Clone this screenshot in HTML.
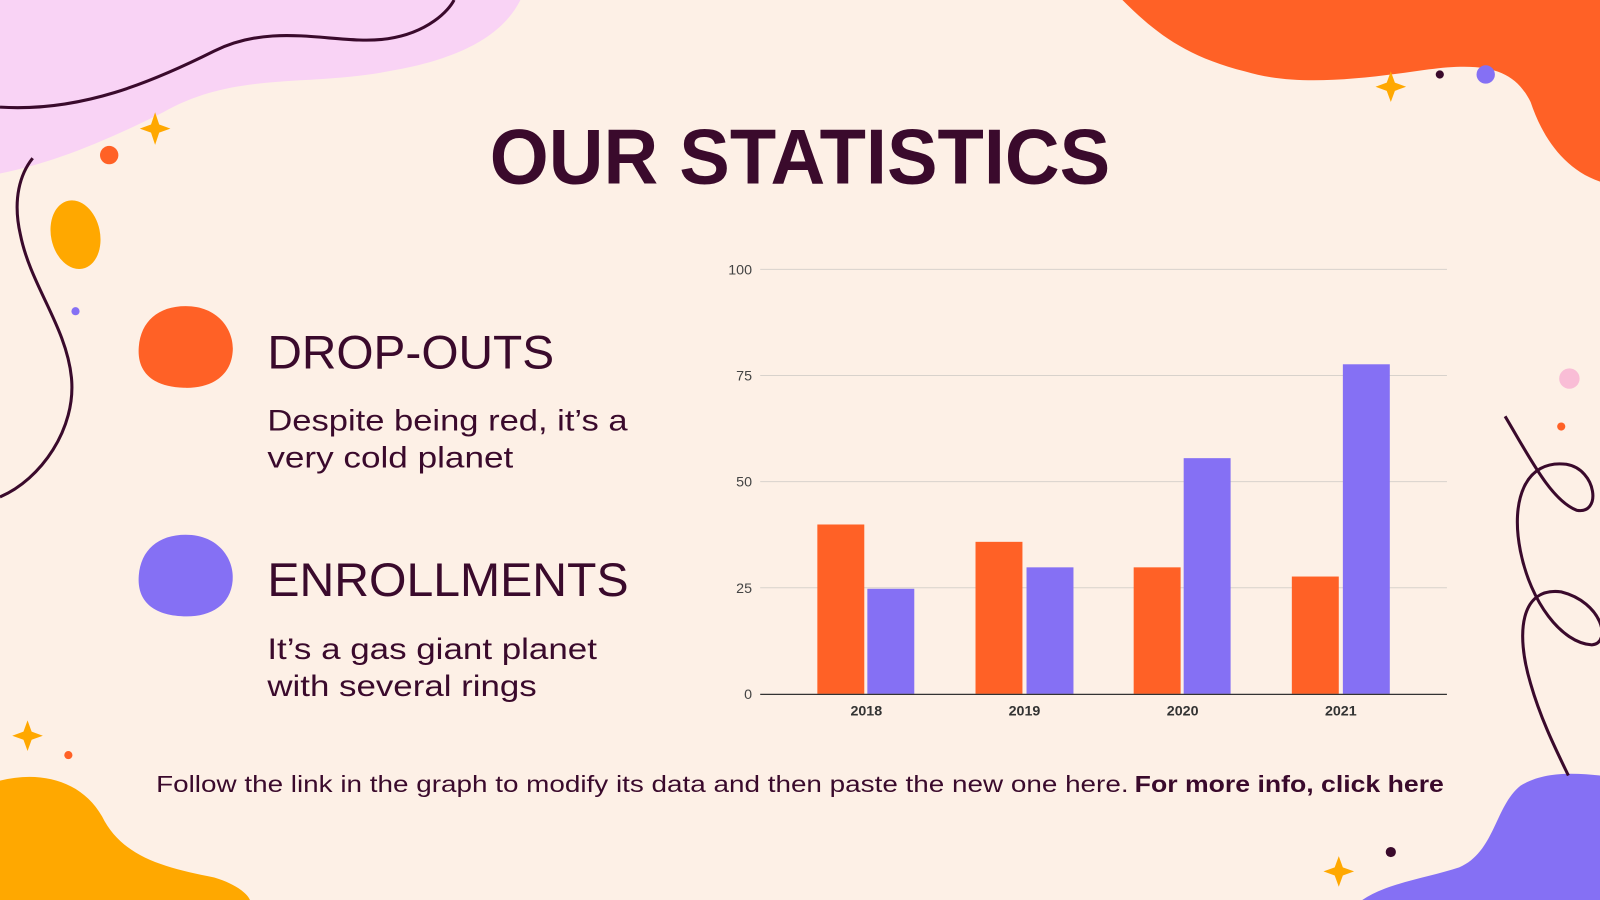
<!DOCTYPE html>
<html><head><meta charset="utf-8"><style>
html,body{margin:0;padding:0;background:#fdf0e6;overflow:hidden}
svg{display:block}
text{font-family:"Liberation Sans",sans-serif}
</style></head><body>
<svg width="1600" height="900" viewBox="0 0 1568 882" xmlns="http://www.w3.org/2000/svg">
<rect width="1568" height="882" fill="#fdf0e6"/>
<!-- pink blob top-left -->
<path d="M0,0 L510,0 C490,40 440,60 380,70 C300,85 230,70 160,110 C100,140 50,160 0,170 Z" fill="#f9d3f5"/>
<path d="M0,105 C80,110 150,80 210,50 C270,20 330,45 380,38 C420,32 440,10 445,0" fill="none" stroke="#3a0a2c" stroke-width="3"/>
<!-- orange blob top-right -->
<path d="M1100,0 L1568,0 L1568,178 C1530,165 1510,130 1500,100 C1485,70 1460,60 1400,68 C1330,78 1270,85 1220,70 C1160,55 1130,30 1100,0 Z" fill="#ff6126"/>
<!-- yellow bottom-left -->
<path d="M0,765 C40,755 80,765 100,800 C120,840 160,850 210,860 C230,866 242,875 245,882 L0,882 Z" fill="#ffa800"/>
<!-- purple bottom-right -->
<path d="M1335,882 C1360,865 1400,860 1430,850 C1465,835 1465,790 1490,770 C1515,755 1545,758 1568,760 L1568,882 Z" fill="#8570f4"/>
<!-- left line -->
<path d="M0,487 C40,470 75,420 70,370 C65,320 30,280 20,230 C12,195 20,170 32,155" fill="none" stroke="#3a0a2c" stroke-width="3"/>
<!-- right squiggle -->
<path d="M1475,408 C1500,450 1520,490 1545,500 C1570,505 1565,460 1535,455 C1495,450 1480,490 1490,540 C1500,590 1530,630 1560,632 C1580,630 1570,590 1530,580 C1490,575 1485,620 1500,670 C1510,705 1525,735 1537,760" fill="none" stroke="#3a0a2c" stroke-width="3"/>
<!-- decorations -->
<ellipse cx="74" cy="230" rx="24" ry="34" transform="rotate(-12 74 230)" fill="#ffa800"/>
<circle cx="107" cy="152" r="9" fill="#ff6126"/>
<circle cx="74" cy="305" r="4" fill="#8570f4"/>
<circle cx="67" cy="740" r="4" fill="#ff6126"/>
<circle cx="1411" cy="73" r="4" fill="#3a0a2c"/>
<circle cx="1456" cy="73" r="9" fill="#8570f4"/>
<circle cx="1538" cy="371" r="10" fill="#f9bdd6"/>
<circle cx="1530" cy="418" r="4" fill="#ff6126"/>
<circle cx="1363" cy="835" r="5" fill="#3a0a2c"/>
<g fill="#ffa800">
<path d="M152,110 L156,122 L167,126 L156,130 L152,142 L148,130 L137,126 L148,122 Z"/>
<path d="M1363,70 L1367,81 L1378,85 L1367,89 L1363,100 L1359,89 L1348,85 L1359,81 Z"/>
<path d="M27,706 L31,717 L42,721 L31,725 L27,736 L23,725 L12,721 L23,717 Z"/>
<path d="M1312,839 L1316,850 L1327,854 L1316,858 L1312,869 L1308,858 L1297,854 L1308,850 Z"/>
</g>
<!-- title -->
<text x="784" y="180" text-anchor="middle" font-size="76" font-weight="bold" fill="#3a0a2c" textLength="608" lengthAdjust="spacingAndGlyphs">OUR STATISTICS</text>
<!-- legend blobs -->
<path d="M182,300 C215,300 230,325 228,345 C226,370 205,381 180,380 C150,379 134,365 136,340 C138,315 155,300 182,300 Z" fill="#ff6126"/>
<path d="M182,524 C215,524 230,549 228,569 C226,594 205,605 180,604 C150,603 134,589 136,564 C138,539 155,524 182,524 Z" fill="#8570f4"/>
<text x="262" y="361" font-size="46" fill="#3a0a2c" textLength="281" lengthAdjust="spacingAndGlyphs">DROP-OUTS</text>
<text x="262" y="422" font-size="29" fill="#3a0a2c" textLength="353" lengthAdjust="spacingAndGlyphs">Despite being red, it’s a</text>
<text x="262" y="458" font-size="29" fill="#3a0a2c" textLength="241" lengthAdjust="spacingAndGlyphs">very cold planet</text>
<text x="262" y="584" font-size="46" fill="#3a0a2c" textLength="354" lengthAdjust="spacingAndGlyphs">ENROLLMENTS</text>
<text x="262" y="646" font-size="29" fill="#3a0a2c" textLength="323" lengthAdjust="spacingAndGlyphs">It’s a gas giant planet</text>
<text x="262" y="682" font-size="29" fill="#3a0a2c" textLength="264" lengthAdjust="spacingAndGlyphs">with several rings</text>
<!-- chart -->
<g stroke="#d8d2cc" stroke-width="1">
<line x1="745" y1="264" x2="1418" y2="264"/>
<line x1="745" y1="368" x2="1418" y2="368"/>
<line x1="745" y1="472" x2="1418" y2="472"/>
<line x1="745" y1="576" x2="1418" y2="576"/>
</g>
<g font-size="14" fill="#444" text-anchor="end">
<text x="737" y="269">100</text><text x="737" y="373">75</text><text x="737" y="477">50</text><text x="737" y="581">25</text><text x="737" y="685">0</text>
</g>
<g fill="#ff6126">
<rect x="801" y="514" width="46" height="166"/>
<rect x="956" y="531" width="46" height="149"/>
<rect x="1111" y="556" width="46" height="124"/>
<rect x="1266" y="565" width="46" height="115"/>
</g>
<g fill="#8570f4">
<rect x="850" y="577" width="46" height="103"/>
<rect x="1006" y="556" width="46" height="124"/>
<rect x="1160" y="449" width="46" height="231"/>
<rect x="1316" y="357" width="46" height="323"/>
</g>
<line x1="745" y1="680.5" x2="1418" y2="680.5" stroke="#333" stroke-width="1.2"/>
<g font-size="14" font-weight="bold" fill="#333" text-anchor="middle">
<text x="849" y="701">2018</text><text x="1004" y="701">2019</text><text x="1159" y="701">2020</text><text x="1314" y="701">2021</text>
</g>
<!-- footer -->
<text x="153" y="776" font-size="23" fill="#3a0a2c" textLength="953" lengthAdjust="spacingAndGlyphs">Follow the link in the graph to modify its data and then paste the new one here.</text>
<text x="1112" y="776" font-size="23" font-weight="bold" fill="#3a0a2c" textLength="303" lengthAdjust="spacingAndGlyphs">For more info, click here</text>
</svg>
</body></html>
